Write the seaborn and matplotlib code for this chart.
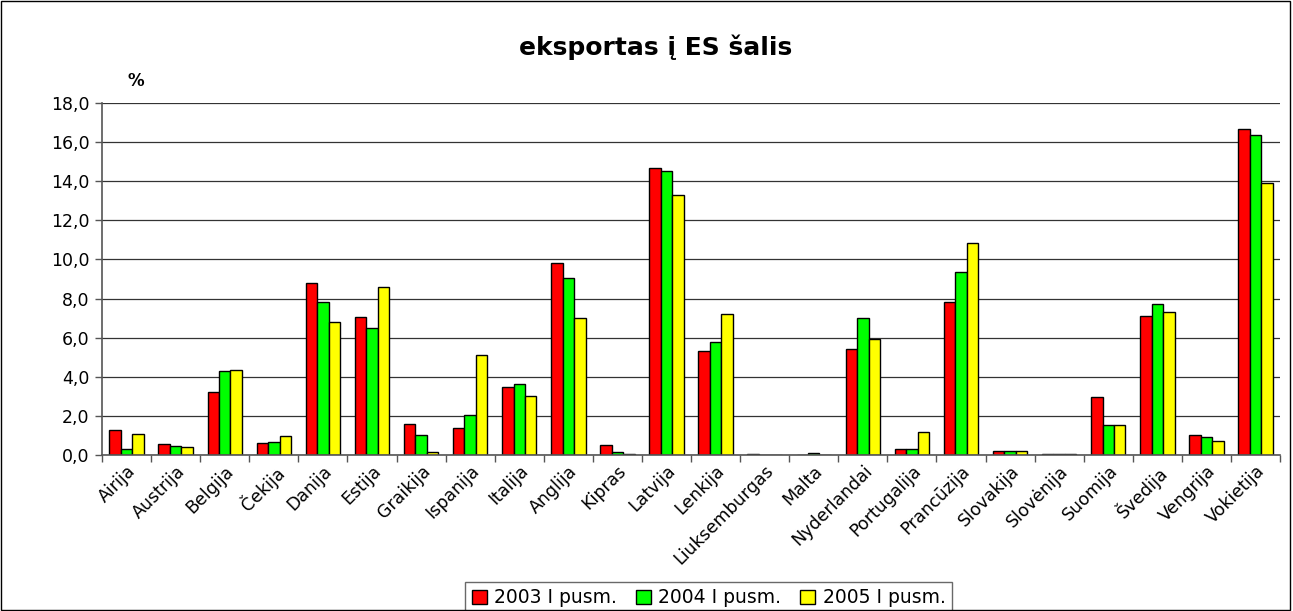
import matplotlib
matplotlib.use('Agg')
import numpy as np
import pandas as pd
import seaborn as sns
import matplotlib.pyplot as plt
from matplotlib.ticker import FixedLocator, FuncFormatter
from matplotlib.patches import Rectangle

countries = ['Airija', 'Austrija', 'Belgija', 'Čekija', 'Danija', 'Estija',
             'Graikija', 'Ispanija', 'Italija', 'Anglija', 'Kipras', 'Latvija',
             'Lenkija', 'Liuksemburgas', 'Malta', 'Nyderlandai', 'Portugalija',
             'Prancūzija', 'Slovakija', 'Slovėnija', 'Suomija', 'Švedija',
             'Vengrija', 'Vokietija']
periods = ['2003 I pusm.', '2004 I pusm.', '2005 I pusm.']

v2003 = [1.3, 0.55, 3.2, 0.6, 8.8, 7.05, 1.6, 1.4, 3.5, 9.8, 0.5, 14.7,
         5.3, 0.05, 0.0, 5.4, 0.3, 7.8, 0.2, 0.05, 2.95, 7.1, 1.0, 16.65]
v2004 = [0.3, 0.45, 4.3, 0.65, 7.8, 6.5, 1.0, 2.05, 3.65, 9.05, 0.15, 14.5,
         5.8, 0.0, 0.1, 7.0, 0.3, 9.35, 0.2, 0.05, 1.55, 7.7, 0.9, 16.35]
v2005 = [1.05, 0.4, 4.35, 0.95, 6.8, 8.6, 0.15, 5.1, 3.0, 7.0, 0.05, 13.3,
         7.2, 0.0, 0.0, 5.95, 1.2, 10.85, 0.2, 0.05, 1.55, 7.3, 0.7, 13.9]

df = pd.DataFrame({'country': countries * 3,
                   'period': np.repeat(periods, len(countries)),
                   'value': v2003 + v2004 + v2005})

sns.set_style('white')
plt.rcParams['font.family'] = ['DejaVu Sans']
plt.rcParams['text.color'] = 'black'
plt.rcParams['xtick.color'] = 'black'
plt.rcParams['ytick.color'] = 'black'

fig = plt.figure(figsize=(12.93, 6.11), dpi=100)
ax = fig.add_axes([0.0789, 0.2553, 0.9111, 0.5761])

sns.barplot(data=df, x='country', y='value', hue='period', ax=ax,
            palette=['#FF0000', '#00FF00', '#FFFF00'], width=0.7,
            edgecolor='black', linewidth=1.0, saturation=1, errorbar=None)

ax.set_ylim(0, 18)
ax.set_xlim(-0.5, len(countries) - 0.5)
ax.set_yticks(np.arange(0, 18.1, 2))
ax.yaxis.set_major_formatter(FuncFormatter(lambda v, p: f'{v:.1f}'.replace('.', ',')))
ax.yaxis.grid(True, color='#333333', linewidth=0.9)
ax.set_axisbelow(True)

ax.xaxis.set_minor_locator(FixedLocator(np.arange(-0.5, len(countries), 1)))
ax.tick_params(axis='x', which='major', length=0, pad=5)
ax.tick_params(axis='x', which='minor', length=5, color='#555555', width=1, direction='out')
ax.tick_params(axis='y', length=5, color='#555555', labelcolor='black', width=1,
               direction='out', labelsize=12.5, pad=4)
ax.set_xticks(range(len(countries)))
ax.set_xticklabels(countries, rotation=45, ha='right', rotation_mode='anchor',
                   fontsize=12.5, color='black')
ax.xaxis.set_ticks_position('bottom')
ax.yaxis.set_ticks_position('left')

for s in ['top', 'right']:
    ax.spines[s].set_visible(False)
for s in ['left', 'bottom']:
    ax.spines[s].set_color('#555555')
    ax.spines[s].set_linewidth(1.2)

ax.set_xlabel('')
ax.set_ylabel('')
fig.text(0.507, 0.923, 'eksportas į ES šalis', ha='center', va='center',
         fontsize=18, fontweight='bold', color='black')
fig.text(0.105, 0.868, '%', ha='center', va='center', fontsize=12,
         fontweight='bold', color='black')

ax.legend(loc='lower center', bbox_to_anchor=(0.548, -0.008), bbox_transform=fig.transFigure,
          ncol=3, frameon=True, fancybox=False, edgecolor='#444444',
          fontsize=13.5, handlelength=0.8, handleheight=0.8, handletextpad=0.4,
          columnspacing=1.0, borderpad=0.35, borderaxespad=0.1)

fig.patches.append(Rectangle((0.001, 0.002), 0.997, 0.996, transform=fig.transFigure,
                             fill=False, edgecolor='black', linewidth=1))

fig.savefig('out.png', dpi=100)
